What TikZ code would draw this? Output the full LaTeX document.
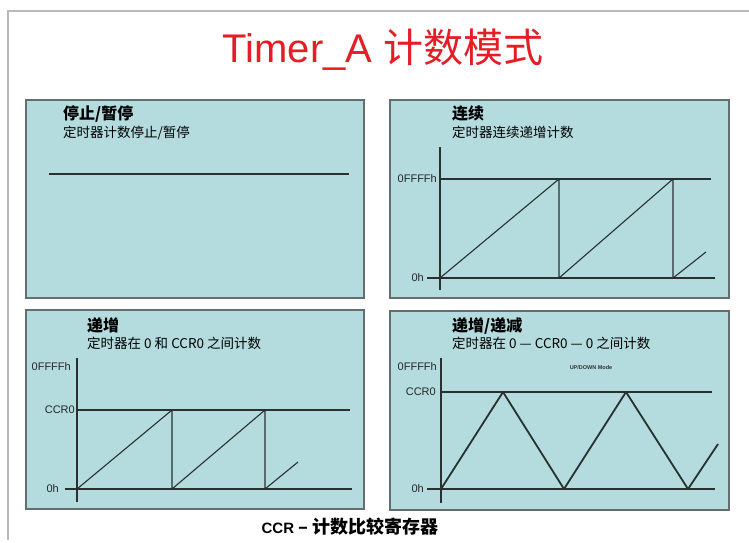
\documentclass[tikz,border=0pt]{standalone}
\usepackage{fontspec}
\setmainfont{Liberation Sans}
\newfontfamily\cjk{Noto Sans CJK SC}
\definecolor{titlered}{RGB}{228,30,36}
\definecolor{panelfill}{RGB}{180,220,223}
\definecolor{paneledge}{RGB}{100,110,110}
\definecolor{wave}{RGB}{40,48,48}
\definecolor{framegray}{RGB}{185,185,185}
\tikzset{
  panel/.style={draw=paneledge, line width=1.5pt, fill=panelfill},
  ptitle/.style={anchor=base west, inner sep=0pt, font=\cjk\bfseries\fontsize{16}{18}\selectfont},
  psub/.style={anchor=base west, inner sep=0pt, font=\cjk\fontsize{13.5}{15}\selectfont},
  lbl/.style={anchor=east, inner sep=0pt, font=\fontsize{11}{12}\selectfont, text=black!85},
  axis/.style={draw=wave, line width=1.2pt},
  wv/.style={draw=wave, line width=1.1pt, line join=round},
  thickwv/.style={draw=wave, line width=2pt, line join=round}
}
\begin{document}
\begin{tikzpicture}[x=1pt,y=-1pt]
\useasboundingbox[fill=white] (0,0) rectangle (749,543);
% outer frame
\coordinate (fbl) at (8,540);
\coordinate (ftl) at (8,11);
\coordinate (ftr) at (749,11);
\draw[framegray, line width=1.5pt] (fbl) -- (ftl) -- (ftr);
% title
\node[anchor=base, inner sep=0pt, text=titlered] (title) at (383,63)
  {\fontsize{40}{44}\selectfont Timer\_A {\cjk 计数模式}};
% panels
\node[panel, draw, minimum width=338pt, minimum height=198pt, anchor=north west, inner sep=0pt] (p1) at (25,99) {};
\node[panel, draw, minimum width=339pt, minimum height=198pt, anchor=north west, inner sep=0pt] (p2) at (389,99) {};
\node[panel, draw, minimum width=338pt, minimum height=199pt, anchor=north west, inner sep=0pt] (p3) at (25,309) {};
\node[panel, draw, minimum width=339pt, minimum height=199pt, anchor=north west, inner sep=0pt] (p4) at (389,310) {};

% ---------- panel 1
\node[ptitle] (t1) at (63,119) {停止/暂停};
\node[psub] (s1) at (63,137) {定时器计数停止/暂停};
\coordinate (l1a) at (49,174);
\coordinate (l1b) at (349,174);
\draw[thickwv] (l1a) -- (l1b);

% ---------- panel 2
\node[ptitle] (t2) at (452,119) {连续};
\node[psub] (s2) at (452,137) {定时器连续递增计数};
\coordinate (a2t) at (440,147);
\coordinate (a2b) at (440,290);
\draw[axis] (a2t) -- (a2b);
\coordinate (m2a) at (440,179);
\coordinate (m2b) at (711,179);
\draw[axis] (m2a) -- (m2b);
\coordinate (z2a) at (427,278);
\coordinate (z2b) at (715,278);
\draw[axis] (z2a) -- (z2b);
\node[lbl] (lm2) at (437,179) {0FFFFh};
\node[lbl] (lz2) at (424,278) {0h};
\coordinate (w2a) at (440,278);
\coordinate (w2b) at (559,179);
\coordinate (w2c) at (559,278);
\coordinate (w2d) at (673,179);
\coordinate (w2e) at (673,278);
\coordinate (w2f) at (706,252);
\draw[wv] (w2a) -- (w2b) -- (w2c) -- (w2d) -- (w2e) -- (w2f);

% ---------- panel 3
\node[ptitle] (t3) at (87,331) {递增};
\node[psub] (s3) at (87,348) {定时器在 0 和 CCR0 之间计数};
\coordinate (a3t) at (77,358);
\coordinate (a3b) at (77,502);
\draw[axis] (a3t) -- (a3b);
\coordinate (c3a) at (77,410);
\coordinate (c3b) at (350,410);
\draw[axis] (c3a) -- (c3b);
\coordinate (z3a) at (65,489);
\coordinate (z3b) at (352,489);
\draw[axis] (z3a) -- (z3b);
\node[lbl] (lm3) at (71,367) {0FFFFh};
\node[lbl] (lc3) at (75,410) {CCR0};
\node[lbl] (lz3) at (59,489) {0h};
\coordinate (w3a) at (77,489);
\coordinate (w3b) at (172,410);
\coordinate (w3c) at (172,489);
\coordinate (w3d) at (265,410);
\coordinate (w3e) at (265,489);
\coordinate (w3f) at (298,462);
\draw[wv] (w3a) -- (w3b) -- (w3c) -- (w3d) -- (w3e) -- (w3f);

% ---------- panel 4
\node[ptitle] (t4) at (452,331) {递增/递减};
\node[psub] (s4) at (452,348) {定时器在 0 — CCR0 — 0 之间计数};
\coordinate (a4t) at (441,358);
\coordinate (a4b) at (441,503);
\draw[axis] (a4t) -- (a4b);
\coordinate (c4a) at (441,392);
\coordinate (c4b) at (712,392);
\draw[axis] (c4a) -- (c4b);
\coordinate (z4a) at (427,489);
\coordinate (z4b) at (715,489);
\draw[axis] (z4a) -- (z4b);
\node[lbl] (lm4) at (437,367) {0FFFFh};
\node[lbl] (lc4) at (436,392) {CCR0};
\node[lbl] (lz4) at (424,489) {0h};
\node[inner sep=0pt, font=\bfseries\fontsize{5.5}{6}\selectfont, text=black!80] (ud) at (591,368) {UP/DOWN Mode};
\coordinate (w4a) at (441,489);
\coordinate (w4b) at (503,392);
\coordinate (w4c) at (564,489);
\coordinate (w4d) at (626,392);
\coordinate (w4e) at (688,489);
\coordinate (w4f) at (718,444);
\draw[thickwv, line width=1.8pt] (w4a) -- (w4b) -- (w4c) -- (w4d) -- (w4e) -- (w4f);

% caption
\node[anchor=base, inner sep=0pt] (cap) at (350,533)
  {\bfseries\fontsize{15}{16}\selectfont CCR {\cjk\fontsize{18}{19}\selectfont – 计数比较寄存器}};
\end{tikzpicture}
\end{document}
